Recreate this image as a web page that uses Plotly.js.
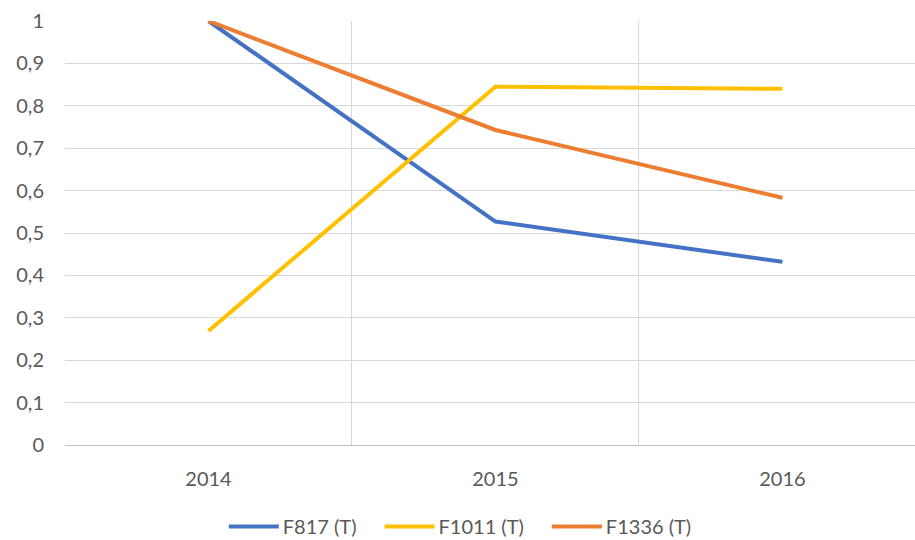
<!DOCTYPE html>
<html>
<head>
<meta charset="utf-8">
<script src="https://cdn.plot.ly/plotly-3.0.1.min.js"></script>
<style>
html,body{margin:0;padding:0;background:#fff;overflow:hidden;}
#chart{width:915px;height:540px;}
</style>
</head>
<body>
<div id="chart"></div>
<script>
const years = ["2014", "2015", "2016"];
const f817 = [1.0, 0.527, 0.432];
const f1011 = [0.269, 0.845, 0.840];
const f1336 = [1.0, 0.743, 0.583];
const names = ["F817 (T)", "F1011 (T)", "F1336 (T)"];
const colors = ["#4472C4", "#FFC000", "#ED7D31"];
const yTicks = [0, 0.1, 0.2, 0.3, 0.4, 0.5, 0.6, 0.7, 0.8, 0.9, 1];
const yTickText = ["0", "0,1", "0,2", "0,3", "0,4", "0,5", "0,6", "0,7", "0,8", "0,9", "1"];

const series = [f817, f1011, f1336];
const traces = series.map((s, i) => ({
  x: years,
  y: s,
  name: names[i],
  type: "scatter",
  mode: "lines",
  line: {color: colors[i], width: 4},
  hoverinfo: "skip"
}));

const font = {family: "Lato, 'Liberation Sans', sans-serif", size: 20, color: "#595959"};

const layout = {
  width: 915,
  height: 540,
  margin: {l: 65, r: 0, t: 21, b: 94.5},
  paper_bgcolor: "#fff",
  plot_bgcolor: "#fff",
  font: font,
  showlegend: true,
  legend: {
    orientation: "h",
    x: 0.5, xanchor: "center",
    y: 0.025, yanchor: "middle",
    yref: "container",
    font: font,
    itemwidth: 50,
    traceorder: "normal"
  },
  xaxis: {
    type: "category",
    range: [-0.5, 2.462],
    tickson: "boundaries",
    showgrid: true,
    gridcolor: "#d9d9d9",
    gridwidth: 1,
    showline: true,
    linecolor: "#bfbfbf",
    linewidth: 1,
    ticks: "",
    zeroline: false,
    ticklabelstandoff: 16,
    tickfont: font,
    fixedrange: true
  },
  yaxis: {
    range: [0, 1],
    tickvals: yTicks,
    ticktext: yTickText,
    showgrid: true,
    gridcolor: "#d9d9d9",
    gridwidth: 1,
    zeroline: false,
    showline: false,
    ticks: "",
    ticklabelstandoff: 20,
    tickfont: font,
    fixedrange: true
  }
};

Plotly.newPlot("chart", traces, layout, {displayModeBar: false, staticPlot: true}).then(gd => {
  // Legend spacing like the reference: 50px line, 4px gap, text, 28px gap
  const lineLen = 50, textGap = 4, itemGap = 28, centerX = 460;
  const sb = document.querySelector(".legend .scrollbox");
  if (sb) sb.removeAttribute("clip-path");
  const items = Array.from(document.querySelectorAll(".legend .traces"));
  if (!items.length) return;
  const parent = items[0].parentNode;
  const originX = parent.getScreenCTM().e;
  const widths = items.map(t => {
    const p = t.querySelector(".legendlines path");
    if (p) p.setAttribute("d", "M0,0h" + lineLen);
    const txt = t.querySelector(".legendtext");
    txt.setAttribute("x", lineLen + textGap);
    return lineLen + textGap + txt.getComputedTextLength();
  });
  const total = widths.reduce((a, b) => a + b, 0) + itemGap * (items.length - 1);
  let absX = centerX - total / 2;
  items.forEach((t, i) => {
    const tr = t.getAttribute("transform") || "";
    const m = tr.match(/translate\(\s*[-\d.e]+\s*,\s*([-\d.e]+)\s*\)/);
    const y = m ? m[1] : 0;
    t.setAttribute("transform", "translate(" + (absX - originX) + "," + y + ")");
    absX += widths[i] + itemGap;
  });
  const bg = document.querySelector(".legend .bg");
  if (bg) bg.setAttribute("width", 0);
});
</script>
</body>
</html>
